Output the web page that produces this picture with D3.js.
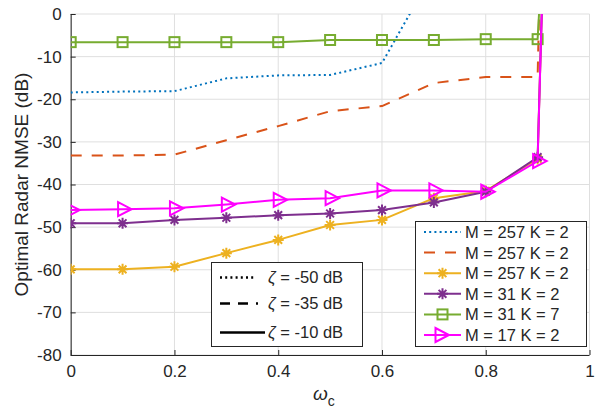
<!DOCTYPE html>
<html><head><meta charset="utf-8">
<script src="https://cdn.jsdelivr.net/npm/d3@7"></script>
<style>body{margin:0;background:#fff}svg{display:block;font-family:"Liberation Sans",Arial,sans-serif}</style>
</head><body><svg id="c" width="595" height="413"></svg>
<script>
// ---- data ----
const omega = [0,0.1,0.2,0.3,0.4,0.5,0.6,0.7,0.8,0.9,0.91];
const blueVals   = [-18.4,-18.2,-18.1,-15.1,-14.4,-14.3,-11.5,10];
const orangeVals = [-33.2,-33.2,-33.0,-29.6,-26.3,-22.8,-21.6,-16.2,-14.8,-14.8,40];
const yellowVals = [-59.9,-59.9,-59.3,-56.1,-53.0,-49.5,-48.3,-43.2,-41.5,-34.0,9];
const purpleVals = [-49.1,-49.1,-48.3,-47.8,-47.2,-46.8,-46.0,-44.2,-41.7,-33.6,9];
const greenVals  = [-6.6,-6.6,-6.6,-6.6,-6.6,-6.1,-6.1,-6.1,-5.9,-5.9,16];
const magentaVals= [-46.0,-45.8,-45.6,-44.7,-43.6,-43.2,-41.4,-41.4,-41.7,-34.5,9];
const seriesLabels = ["M = 257 K = 2","M = 257 K = 2","M = 257 K = 2","M = 31 K = 2","M = 31 K = 7","M = 17 K = 2"];
const zetaLabels = ["-50 dB","-35 dB","-10 dB"];
const xTicks = [0,0.2,0.4,0.6,0.8,1];
const yTicks = [0,-10,-20,-30,-40,-50,-60,-70,-80];

const series = [
 {vals:blueVals,  color:"#0072BD", dash:"2,3.2", marker:null},
 {vals:orangeVals,color:"#D95319", dash:"11,10", marker:null},
 {vals:yellowVals,color:"#EDB120", dash:null, marker:"ast"},
 {vals:purpleVals,color:"#7E2F8E", dash:null, marker:"ast"},
 {vals:greenVals, color:"#77AC30", dash:null, marker:"sq"},
 {vals:magentaVals,color:"#FF00FF",dash:null, marker:"tri"}
];

const svg = d3.select("#c");
const L=70.7,R=589.5,T=14,B=355;
const x = d3.scaleLinear().domain([0,1]).range([L,R]);
const y = d3.scaleLinear().domain([-80,0]).range([B,T]);
const ink="#262626";

// grid
const g = svg.append("g");
g.selectAll(".gx").data(xTicks).join("line").attr("x1",d=>x(d)).attr("x2",d=>x(d)).attr("y1",T).attr("y2",B)
 .attr("stroke","#dfdfdf").attr("stroke-width",1);
g.selectAll(".gy").data(yTicks).join("line").attr("y1",d=>y(d)).attr("y2",d=>y(d)).attr("x1",L).attr("x2",R)
 .attr("stroke","#dfdfdf").attr("stroke-width",1);

// axes
const xAxis = d3.axisBottom(x).tickValues(xTicks).tickSize(-5).tickPadding(18).tickFormat(d=>String(d));
const yAxis = d3.axisLeft(y).tickValues(yTicks).tickSize(-5).tickPadding(9).tickFormat(d=>String(d));
const ax = svg.append("g").attr("transform",`translate(0,${B})`).call(xAxis);
const ay = svg.append("g").attr("transform",`translate(${L},0)`).call(yAxis);
[ax,ay].forEach(a=>{
  a.select(".domain").attr("stroke",ink).attr("stroke-width",1).attr("d", a===ax?`M${L},0.5H${R}`:`M0.5,${B}V${T}`);
  a.selectAll(".tick line").attr("stroke",ink);
  a.selectAll("text").attr("fill",ink).style("font-size","17px").style("font-family","Liberation Sans, Arial, sans-serif");
});
ax.selectAll(".tick text").attr("dy","0.25em");

// clip
svg.append("clipPath").attr("id","clip").append("rect").attr("x",L).attr("y",T).attr("width",R-L).attr("height",B-T);
const plot = svg.append("g").attr("clip-path","url(#clip)");

function marker(sel,type,color,cx,cy){
  const gg = sel.append("g").attr("transform",`translate(${cx},${cy})`).attr("fill","none").attr("stroke",color).attr("stroke-width",2);
  if(type==="sq"){ gg.append("rect").attr("x",-5).attr("y",-5).attr("width",10).attr("height",10).attr("fill","none"); }
  else if(type==="tri"){ gg.append("path").attr("d","M-4.5,-7L9,0L-4.5,7Z"); }
  else if(type==="ast"){ const r=5.5, d=r*0.7071;
    gg.append("path").attr("d",`M${-r},0H${r}M0,${-r}V${r}M${-d},${-d}L${d},${d}M${-d},${d}L${d},${-d}`); }
}

const line = d3.line().x((d,i)=>x(omega[i])).y(d=>y(d));
series.forEach(s=>{
  plot.append("path").attr("d",line(s.vals)).attr("fill","none").attr("stroke",s.color).attr("stroke-width",2)
    .attr("stroke-dasharray",s.dash).attr("stroke-linejoin","round");
  if(s.marker){
    s.vals.forEach((v,i)=>{ if(v<=0) marker(plot,s.marker,s.color,x(omega[i]),y(v)); });
  }
});

// legend 1
const l1 = svg.append("g");
l1.append("rect").attr("x",415.5).attr("y",221.5).attr("width",171).attr("height",125).attr("fill","#fff").attr("stroke",ink).attr("stroke-width",1);
series.forEach((s,i)=>{
  const yy = 232 + i*20.6;
  l1.append("line").attr("x1",424).attr("x2",461).attr("y1",yy).attr("y2",yy).attr("stroke",s.color).attr("stroke-width",2)
    .attr("stroke-dasharray",s.dash);
  if(s.marker) marker(l1,s.marker,s.color,s.marker==="tri"?440:442.5,yy);
  l1.append("text").attr("x",465).attr("y",yy).attr("dy","0.36em").attr("fill",ink).style("font-size","16.5px").text(seriesLabels[i]);
});

// legend 2
const l2 = svg.append("g");
l2.append("rect").attr("x",211.5).attr("y",262.5).attr("width",151).attr("height",84).attr("fill","#fff").attr("stroke",ink).attr("stroke-width",1);
const zdash = ["2,3.2","10,8",null];
const zy = [277.5,303.5,332.5];
const zx2 = [255,258,265];
zetaLabels.forEach((t,i)=>{
  l2.append("line").attr("x1",220).attr("x2",zx2[i]).attr("y1",zy[i]).attr("y2",zy[i]).attr("stroke","#000").attr("stroke-width",2.5)
    .attr("stroke-dasharray",zdash[i]);
  const tx = l2.append("text").attr("x",268).attr("y",zy[i]).attr("dy","0.36em").attr("fill",ink).style("font-size","16.5px");
  tx.append("tspan").style("font-style","italic").text("ζ");
  tx.append("tspan").text(" = "+t);
});

// axis labels
svg.append("text").attr("transform",`translate(21,${(T+B)/2}) rotate(-90)`).attr("text-anchor","middle").attr("dy","0.36em")
  .attr("fill",ink).style("font-size","19px").text("Optimal Radar NMSE (dB)");
const xl = svg.append("text").attr("x",313).attr("y",400).attr("fill",ink).style("font-size","19px");
xl.append("tspan").style("font-style","italic").text("ω");
xl.append("tspan").attr("dy",6).style("font-size","14px").text("c");
</script></body></html>
